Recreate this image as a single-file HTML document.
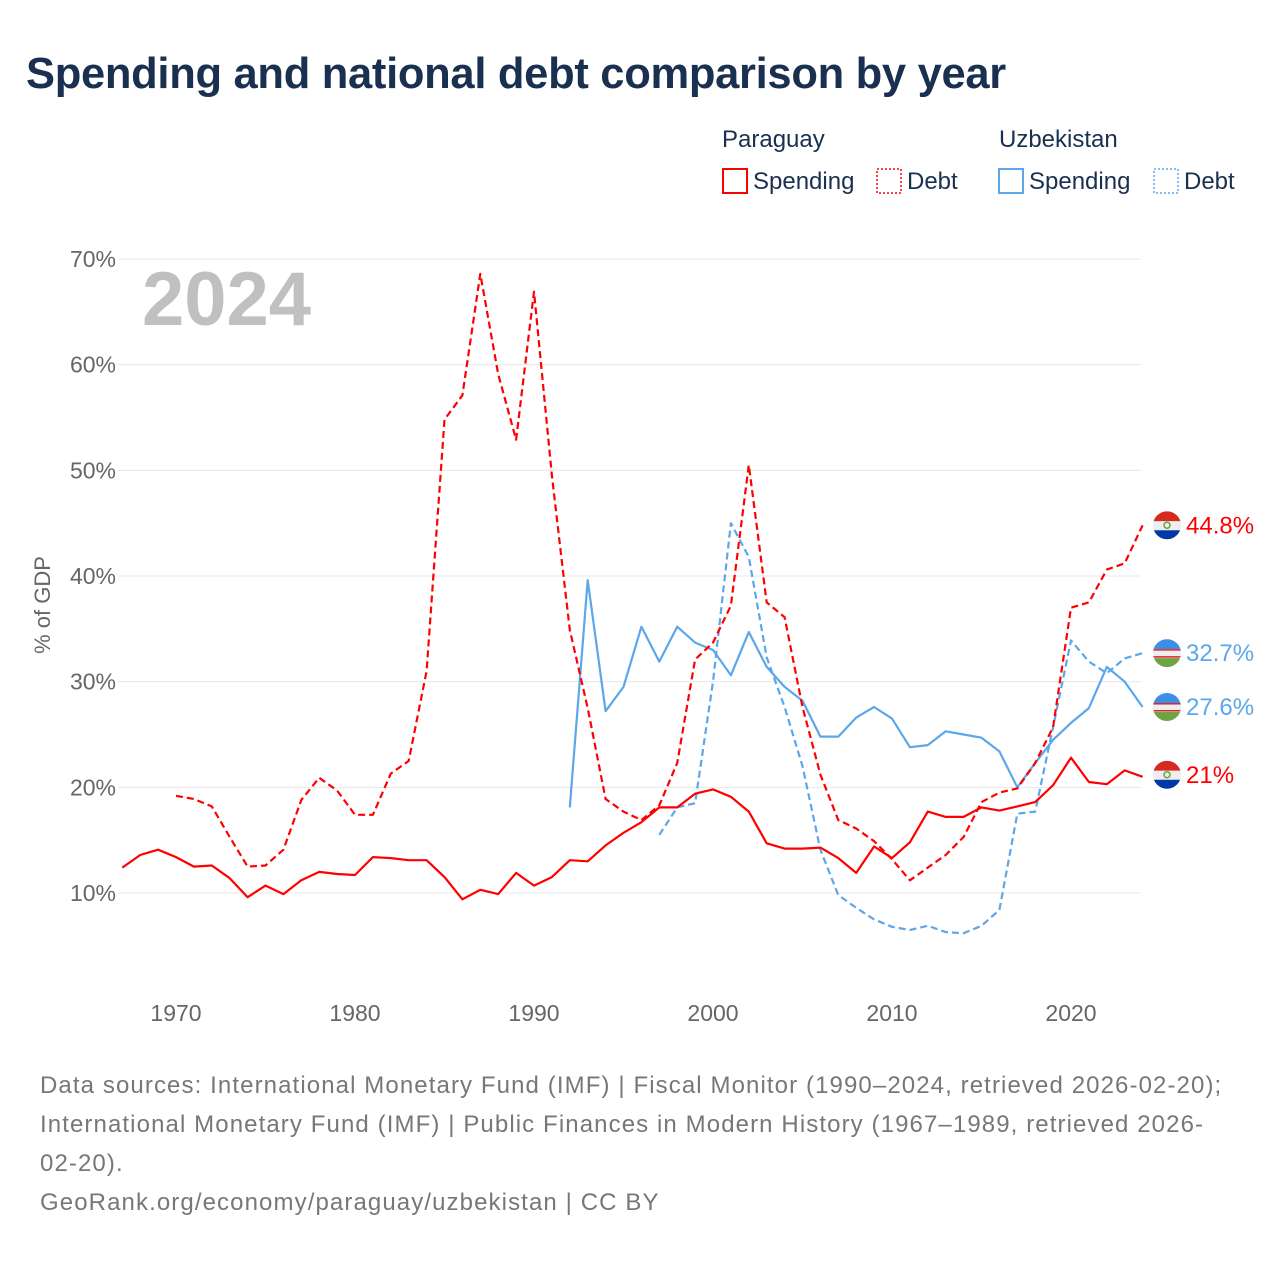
<!DOCTYPE html>
<html><head><meta charset="utf-8"><style>
body{margin:0;background:#fff;font-family:"Liberation Sans",sans-serif}
#wrap{position:relative;width:1280px;height:1280px;overflow:hidden}
h1{position:absolute;left:26px;top:50px;margin:0;font-size:43.5px;font-weight:bold;color:#1a3050;letter-spacing:-0.3px}
.foot{position:absolute;left:40px;top:1066px;font-size:24px;line-height:39px;color:#777;width:1195px;letter-spacing:1.1px}
</style></head><body>
<div id="wrap">
<h1>Spending and national debt comparison by year</h1>
<svg id="chart" width="1280" height="1280" style="position:absolute;left:0;top:0"></svg>
<div class="foot">Data sources: International Monetary Fund (IMF) | Fiscal Monitor (1990–2024, retrieved 2026-02-20); International Monetary Fund (IMF) | Public Finances in Modern History (1967–1989, retrieved 2026-02-20).<br>GeoRank.org/economy/paraguay/uzbekistan | CC BY</div>
</div>
<script>
const pySpendYears=[1967,2024];
const pySpend=[12.4,13.6,14.1,13.4,12.5,12.6,11.4,9.6,10.7,9.9,11.2,12.0,11.8,11.7,13.4,13.3,13.1,13.1,11.5,9.4,10.3,9.9,11.9,10.7,11.5,13.1,13.0,14.5,15.7,16.7,18.1,18.1,19.4,19.8,19.1,17.7,14.7,14.2,14.2,14.3,13.3,11.9,14.4,13.3,14.8,17.7,17.2,17.2,18.1,17.8,18.2,18.6,20.2,22.8,20.5,20.3,21.6,21.0];
const pyDebtStart=1970;
const pyDebt=[19.2,18.9,18.2,15.3,12.5,12.6,14.1,18.8,20.9,19.7,17.4,17.4,21.3,22.5,31.0,54.8,57.1,68.6,59.1,52.9,66.9,49.5,34.9,27.5,18.9,17.7,16.9,18.3,22.3,32.1,33.7,37.2,50.5,37.5,36.1,27.6,21.2,16.9,16.1,14.9,13.2,11.2,12.4,13.6,15.3,18.6,19.5,19.9,22.3,25.7,37.0,37.5,40.6,41.2,44.8];
const uzSpendStart=1992;
const uzSpend=[18.1,39.6,27.2,29.5,35.2,31.9,35.2,33.7,33.0,30.6,34.7,31.4,29.5,28.2,24.8,24.8,26.6,27.6,26.5,23.8,24.0,25.3,25.0,24.7,23.4,20.0,22.3,24.5,26.1,27.5,31.4,30.0,27.6];
const uzDebtStart=1997;
const uzDebt=[15.5,18.1,18.5,30.0,45.0,41.8,32.3,27.6,22.0,14.1,9.8,8.6,7.5,6.8,6.5,6.9,6.3,6.2,6.9,8.4,17.5,17.7,25.7,33.9,31.9,30.8,32.2,32.7];
const yTicks=[10,20,30,40,50,60,70];
const xTicks=[1970,1980,1990,2000,2010,2020];

const NS="http://www.w3.org/2000/svg";
const svg=document.getElementById('chart');
const X=yr=>176+(yr-1970)*17.9;
const Y=v=>893-(v-10)*10.567;
function mk(t,a,parent){const e=document.createElementNS(NS,t);for(const k in a)e.setAttribute(k,a[k]);(parent||svg).appendChild(e);return e;}
function txt(s,a){const e=mk('text',a);e.textContent=s;return e;}

yTicks.forEach(v=>{
 const l=mk('line',{x1:118,x2:1141,y1:Y(v),y2:Y(v),stroke:'#e8e8e8','stroke-width':1});
 
 
 const t=txt(v+'%',{x:116,y:Y(v)+8,'text-anchor':'end','font-size':23,fill:'#666'});
 
 
});
xTicks.forEach(v=>{
 const t=txt(String(v),{x:X(v),y:1021,'text-anchor':'middle','font-size':23,fill:'#666'});
 
 
});
const yt=txt('% of GDP',{x:50,y:605,'text-anchor':'middle','font-size':22,fill:'#666',transform:'rotate(-90 50 605)'});


const yr=txt('2024',{x:142,y:325,'font-size':76,'font-weight':'bold',fill:'#c0c0c0'});



function line(start,vals,color,dash,name){
 const pts=vals.map((v,i)=>X(start+i).toFixed(1)+','+Y(v).toFixed(1)).join(' ');
 const p=mk('polyline',{points:pts,fill:'none',stroke:color,'stroke-width':2.2,'stroke-linejoin':'round'});
 if(dash)p.setAttribute('stroke-dasharray','7 4');
 
 
}
const RED='#ff0000',BLUE='#5ba7ea';
line(uzDebtStart,uzDebt,BLUE,true,'uzbekistan-debt-line');
line(uzSpendStart,uzSpend,BLUE,false,'uzbekistan-spending-line');
line(pyDebtStart,pyDebt,RED,true,'paraguay-debt-line');
line(pySpendYears[0],pySpend,RED,false,'paraguay-spending-line');

function flag(cy,country,label,color,name){
 const g=mk('g',{});
 
 
 const cx=1167,r=14;
 const id='c'+Math.round(cy);
 const cp=mk('clipPath',{id:id},g);mk('circle',{cx:cx,cy:cy,r:r},cp);
 const f=mk('g',{'clip-path':'url(#'+id+')'},g);
 if(country==='py'){
  mk('rect',{x:cx-r,y:cy-r,width:28,height:10,fill:'#d52b1e'},f);
  mk('rect',{x:cx-r,y:cy-4,width:28,height:9,fill:'#eee'},f);
  mk('rect',{x:cx-r,y:cy+5,width:28,height:10,fill:'#0038a8'},f);
  mk('circle',{cx:cx,cy:cy,r:3,fill:'none',stroke:'#6a9f3a','stroke-width':1.5},f);
 }else{
  mk('rect',{x:cx-r,y:cy-r,width:28,height:10,fill:'#3a8fe8'},f);
  mk('rect',{x:cx-r,y:cy-4,width:28,height:9,fill:'#eee'},f);
  mk('rect',{x:cx-r,y:cy-4,width:28,height:1.5,fill:'#e0202a'},f);
  mk('rect',{x:cx-r,y:cy+3,width:28,height:1.5,fill:'#e0202a'},f);
  mk('rect',{x:cx-r,y:cy+5,width:28,height:10,fill:'#6ea344'},f);
 }
 const t=mk('text',{x:1186,y:cy+8,'font-size':24,fill:color},g);t.textContent=label;
}
flag(Y(pyDebt[pyDebt.length-1]),'py','44.8%',RED,'paraguay-debt-end-label');
flag(Y(uzDebt[uzDebt.length-1]),'uz','32.7%',BLUE,'uzbekistan-debt-end-label');
flag(Y(uzSpend[uzSpend.length-1]),'uz','27.6%',BLUE,'uzbekistan-spending-end-label');
flag(Y(pySpend[pySpend.length-1])-2,'py','21%',RED,'paraguay-spending-end-label');

function legendHead(x,s,name){const t=txt(s,{x:x,y:147,'font-size':24,fill:'#1a3050'});}
legendHead(722,'Paraguay','legend-paraguay-title');
legendHead(999,'Uzbekistan','legend-uzbekistan-title');
function legendItem(x,color,dotted,s,name){
 const g=mk('g',{});
 
 
 const r=mk('rect',{x:x,y:169,width:24,height:24,fill:'none',stroke:color,'stroke-width':2},g);
 if(dotted){r.setAttribute('stroke-dasharray','2 2');r.setAttribute('stroke-width',1.5);}
 const t=mk('text',{x:x+30,y:189,'font-size':24,fill:'#1a3050'},g);t.textContent=s;
}
legendItem(723,RED,false,'Spending','legend-paraguay-spending');
legendItem(877,RED,true,'Debt','legend-paraguay-debt');
legendItem(999,BLUE,false,'Spending','legend-uzbekistan-spending');
legendItem(1154,BLUE,true,'Debt','legend-uzbekistan-debt');
</script>
</body></html>
